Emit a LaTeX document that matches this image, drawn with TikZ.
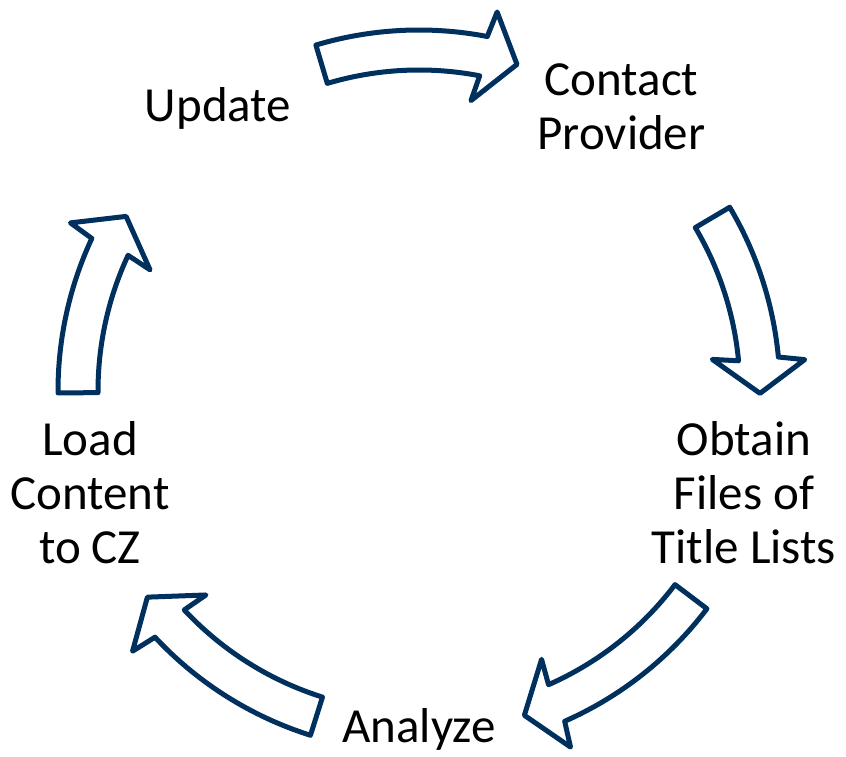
\documentclass[tikz,border=0pt]{standalone}
\usepackage{fontspec}
\setmainfont{Carlito}
\definecolor{navy}{RGB}{0,48,94}
\begin{document}
\begin{tikzpicture}[x=1pt,y=1pt,
  cyc/.style={draw=navy, line width=5pt, line join=round, fill=white},
  lbl/.style={font=\fontsize{49}{54}\selectfont, align=center, anchor=base, inner sep=0pt}]
\useasboundingbox (0,0) rectangle (846,757);
\coordinate (c) at (419,366);
\foreach \t/\p in {106.6/73.3, 30.6/-0.4, -37.1/-72.0, -107.5/-142.8, 180.3/149.2}{
  \pgfmathsetmacro\h{\p+5.8}
  \draw[cyc] ([shift={(\t:361)}]c) arc[start angle=\t, end angle=\h, radius=361]
    -- ([shift={(\h-0.75:387)}]c) -- ([shift={(\p:341)}]c)
    -- ([shift={(\h+0.75:295)}]c) -- ([shift={(\h:321)}]c)
    arc[start angle=\h, end angle=\t, radius=321] -- cycle;
}
\node[lbl] (update) at (218,635.3) {Update};
\node[lbl] (contact) at (621.5,607) {Contact\\Provider};
\node[lbl] (obtain) at (744,193.7) {Obtain\\Files of\\Title Lists};
\node[lbl] (analyze) at (419,14.3) {Analyze};
\node[lbl] (load) at (90,193.7) {Load\\Content\\to CZ};
\end{tikzpicture}
\end{document}
